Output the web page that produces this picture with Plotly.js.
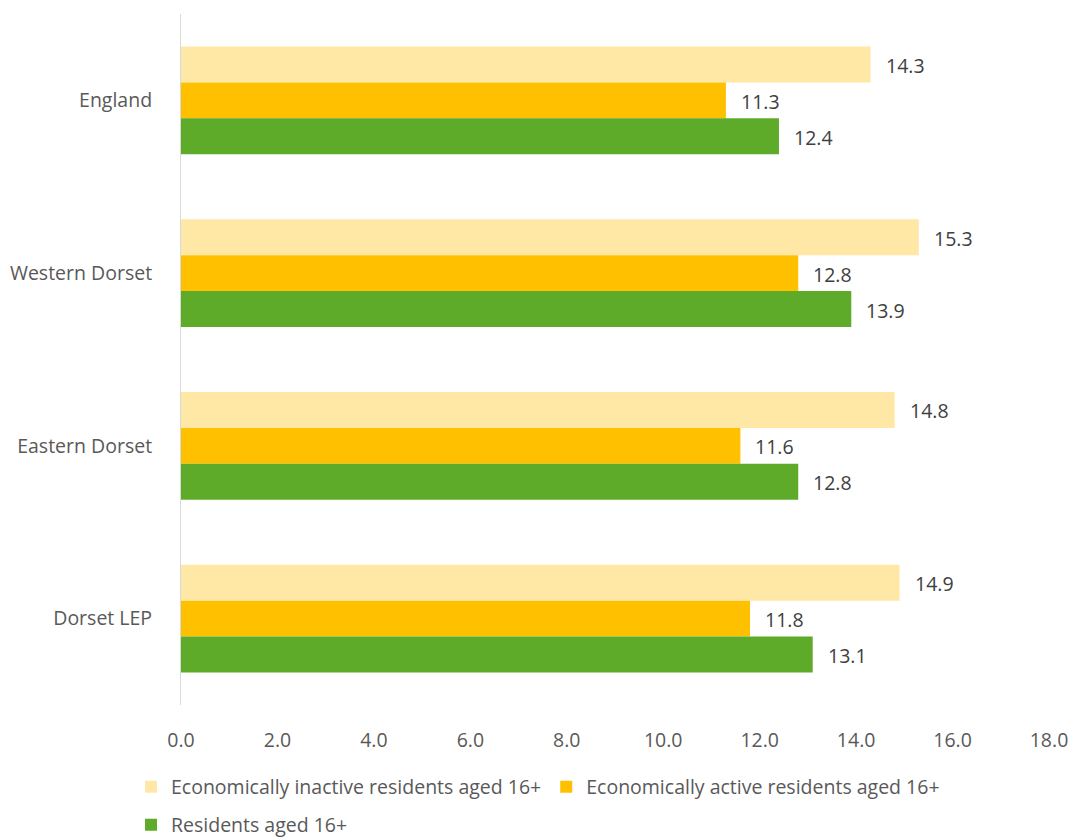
<!DOCTYPE html>
<html>
<head>
<meta charset="utf-8">
<script src="https://cdn.plot.ly/plotly-3.0.1.min.js"></script>
<style>html,body{margin:0;padding:0;background:#fff;}#chart{width:1077px;height:839px;}</style>
</head>
<body>
<div id="chart"></div>
<script>
const categories = ["England", "Western Dorset", "Eastern Dorset", "Dorset LEP"];
const seriesNames = ["Economically inactive residents aged 16+", "Economically active residents aged 16+", "Residents aged 16+"];
const inactiveValues = [14.3, 15.3, 14.8, 14.9];
const activeValues = [11.3, 12.8, 11.6, 11.8];
const residentsValues = [12.4, 13.9, 12.8, 13.1];
const xTickValues = [0, 2, 4, 6, 8, 10, 12, 14, 16, 18];

const colors = ["#ffe8a6", "#ffc000", "#5eab2a"];
const allValues = [inactiveValues, activeValues, residentsValues];
const FONT = "Open Sans, sans-serif";
const FS = 19.5;

const traces = allValues.map((vals, k) => ({
  type: "bar",
  orientation: "h",
  name: seriesNames[k],
  x: vals,
  y: categories,
  marker: {color: colors[k]},
  legend: k === 2 ? "legend2" : "legend",
  hoverinfo: "x+name"
}));

const annotations = [];
allValues.forEach((vals, k) => {
  vals.forEach((v, i) => {
    annotations.push({
      x: v, y: categories[i], xref: "x", yref: "y",
      text: v.toFixed(1), showarrow: false,
      xanchor: "left", yanchor: "middle",
      xshift: 13, yshift: (1 - k) * 36 - 1,
      font: {family: FONT, size: FS, color: "#404040"}
    });
  });
});

const layout = {
  width: 1077, height: 839,
  margin: {l: 181, r: 27.5, t: 13.5, b: 133.5},
  paper_bgcolor: "#fff", plot_bgcolor: "#fff",
  barmode: "group", bargap: 0.376, bargroupgap: 0,
  font: {family: FONT, size: FS, color: "#595959"},
  xaxis: {
    range: [0, 18], tickvals: xTickValues, tickformat: ".1f",
    showgrid: false, zeroline: false, showline: false,
    ticks: "", ticklabelstandoff: 21,
    tickfont: {family: FONT, size: FS, color: "#595959"}
  },
  yaxis: {
    type: "category", range: [3.5, -0.5],
    showgrid: false, zeroline: false,
    showline: true, linecolor: "#d9d9d9", linewidth: 1,
    ticks: "", ticklabelstandoff: 24,
    tickfont: {family: FONT, size: FS, color: "#595959"}
  },
  showlegend: true,
  legend: {
    orientation: "h", xref: "container", x: 131 / 1077, xanchor: "left",
    yref: "container", y: 1 - 787 / 839, yanchor: "middle",
    font: {family: FONT, size: FS, color: "#595959"}, traceorder: "normal",
    bgcolor: "rgba(0,0,0,0)"
  },
  legend2: {
    orientation: "h", xref: "container", x: 131 / 1077, xanchor: "left",
    yref: "container", y: 1 - 825 / 839, yanchor: "middle",
    font: {family: FONT, size: FS, color: "#595959"},
    bgcolor: "rgba(0,0,0,0)"
  },
  annotations: annotations
};

Plotly.newPlot("chart", traces, layout, {displayModeBar: false, staticPlot: true});
</script>
</body>
</html>
